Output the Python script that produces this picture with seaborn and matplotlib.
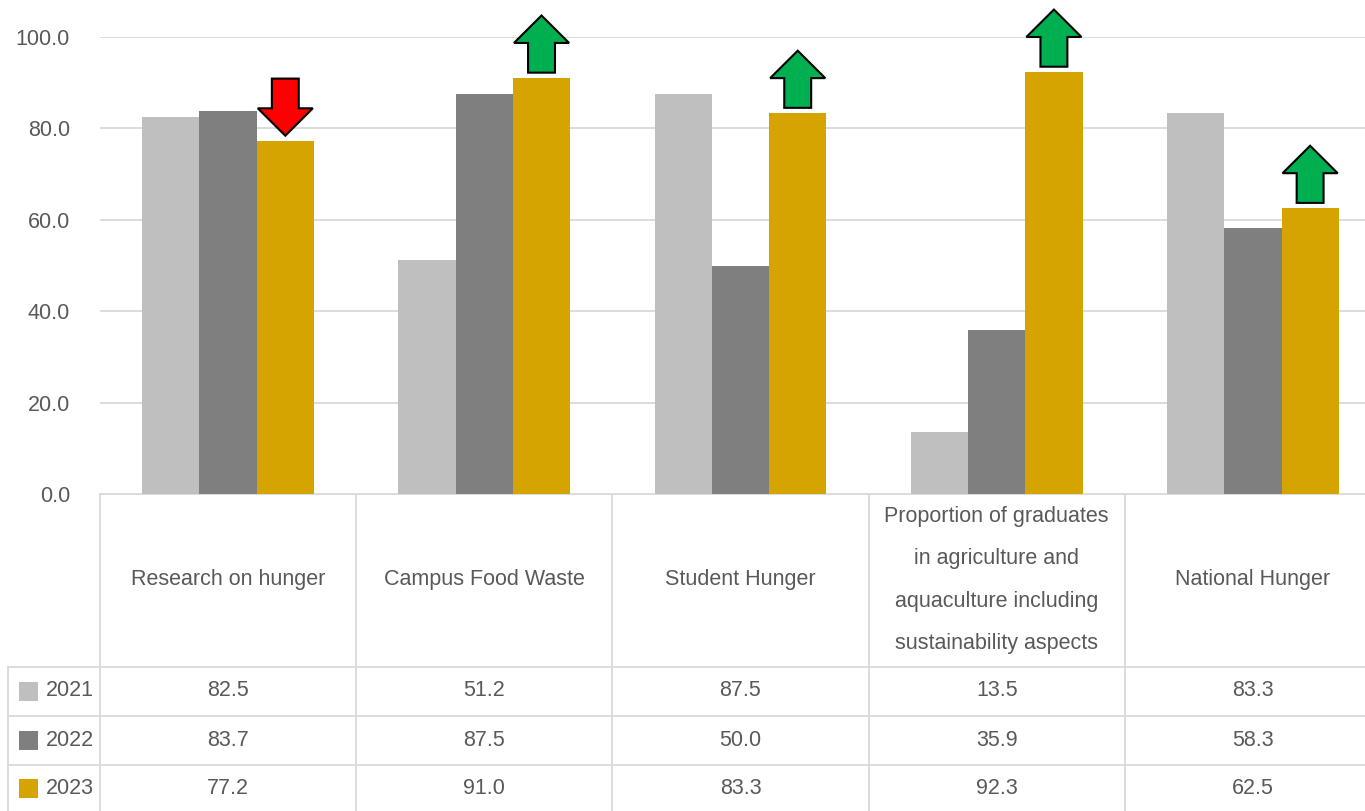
import pandas as pd
import matplotlib
matplotlib.use('Agg')
import matplotlib.pyplot as plt
import matplotlib.transforms as mtransforms
from matplotlib.patches import FancyArrow, Rectangle
import seaborn as sns

# Data
categories = ['Research on hunger', 'Campus Food Waste', 'Student Hunger',
              'Proportion of graduates\nin agriculture and\naquaculture including\nsustainability aspects',
              'National Hunger']
years = ['2021', '2022', '2023']
values_2021 = [82.5, 51.2, 87.5, 13.5, 83.3]
values_2022 = [83.7, 87.5, 50.0, 35.9, 58.3]
values_2023 = [77.2, 91.0, 83.3, 92.3, 62.5]
yticks = [0, 20, 40, 60, 80, 100]

colors = ['#BFBFBF', '#7F7F7F', '#D6A400']
grid_col = '#D9D9D9'
text_col = '#595959'
fs = 15.5

# long-form table for seaborn
rows = []
for yr, vals in zip(years, [values_2021, values_2022, values_2023]):
    for i, v in enumerate(vals):
        rows.append({'Category': i, 'Year': yr, 'Value': v})
df = pd.DataFrame(rows)

sns.set_style('white')
plt.rcParams['font.family'] = ['Liberation Sans', 'DejaVu Sans']

W, H = 1365, 811
fig = plt.figure(figsize=(W / 100, H / 100), dpi=100)
# plot area: x 100..1381 px (5 columns of 256 px), y 37..494 px
ax = fig.add_axes([100 / W, (H - 494) / H, 1281 / W, (494 - 37) / H])

sns.barplot(data=df, x='Category', y='Value', hue='Year', palette=colors,
            width=0.67, saturation=1, legend=False, ax=ax, zorder=2,
            errorbar=None, edgecolor='none')

ax.set_xlim(-0.5, 4.5)
ax.set_ylim(0, 100)
ax.set_yticks(yticks)
ax.set_yticklabels([f'{t:.1f}' for t in yticks], color=text_col, fontsize=fs)
ax.tick_params(axis='y', length=0, pad=21.6)
ax.set_xticks([])
ax.set_xlabel('')
ax.set_ylabel('')
for s in ax.spines.values():
    s.set_visible(False)
for t in yticks:
    ax.axhline(t, color=grid_col, lw=1.3, zorder=1)

# change arrows above the 2023 bars
bars_2023 = ax.containers[2]
gap, arr_len, head_len = 1.2, 12.5, 6.0
for i, bar in enumerate(bars_2023.patches):
    xc = bar.get_x() + bar.get_width() / 2
    top = values_2023[i]
    if values_2023[i] < values_2022[i]:
        arr = FancyArrow(xc, top + gap + arr_len, 0, -arr_len, width=0.105,
                         head_width=0.215, head_length=head_len,
                         length_includes_head=True, fc='#FF0000', ec='black', lw=1.5)
    else:
        arr = FancyArrow(xc, top + gap, 0, arr_len, width=0.105,
                         head_width=0.215, head_length=head_len,
                         length_includes_head=True, fc='#00B050', ec='black', lw=1.5)
    arr.set_clip_on(False)
    arr.set_zorder(5)
    ax.add_patch(arr)

# data table under the chart (pixel coordinates, x tied to bar columns)
tab = fig.add_axes([0, 0, 1, 1], zorder=-1)
tab.set_xlim(0, W)
tab.set_ylim(H, 0)
tab.axis('off')
tab.patch.set_alpha(0)
blend = mtransforms.blended_transform_factory(ax.transData, tab.transData)

# horizontal lines
tab.plot([100, W], [494, 494], color=grid_col, lw=1.3)
for yy in [667, 716, 765]:
    tab.plot([8, W], [yy, yy], color=grid_col, lw=1.3)
# vertical lines
for i in range(5):
    tab.plot([i - 0.5, i - 0.5], [494, H], color=grid_col, lw=1.3, transform=blend)
tab.plot([8, 8], [667, H], color=grid_col, lw=1.3)

# header texts
for i, cat in enumerate(categories):
    tab.text(i, 580, cat, transform=blend, ha='center', va='center',
             fontsize=fs, color=text_col, linespacing=2.35)

# value rows with legend keys
row_y = [691, 740, 788]
for yr, vals, col, yy in zip(years, [values_2021, values_2022, values_2023], colors, row_y):
    tab.add_patch(Rectangle((19, yy - 9.5), 19, 19, fc=col, ec='none'))
    tab.text(46, yy, yr, ha='left', va='center', fontsize=fs, color=text_col)
    for i, v in enumerate(vals):
        tab.text(i, yy, f'{v:.1f}', transform=blend, ha='center', va='center',
                 fontsize=fs, color=text_col)

fig.savefig('out.png', dpi=100)
